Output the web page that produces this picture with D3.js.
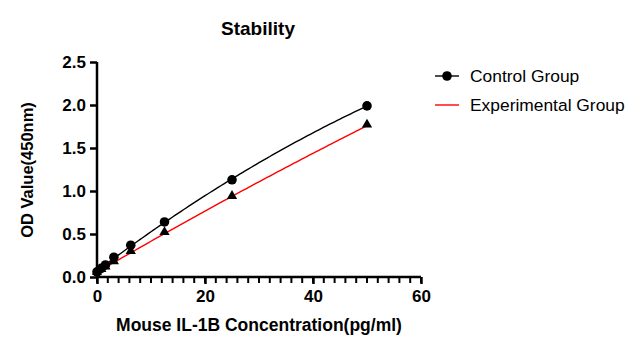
<!DOCTYPE html>
<html><head><meta charset="utf-8">
<script src="https://cdn.jsdelivr.net/npm/d3@7"></script>
<style>body{margin:0;background:#fff}svg{display:block}text{font-family:Arial,"Liberation Sans",sans-serif}</style>
</head><body>
<svg id="c" width="638" height="350"></svg>
<script>
const concentrations = [0, 0.78, 1.56, 3.125, 6.25, 12.5, 25, 50];
const controlValues = [0.06, 0.10, 0.14, 0.23, 0.37, 0.64, 1.13, 1.99];
const experimentalValues = [0.05, 0.08, 0.11, 0.17, 0.29, 0.51, 0.93, 1.76];
const xTicks = [0, 20, 40, 60];
const xMinorTicks = d3.range(0, 61, 2);
const yTicks = [0, 0.5, 1.0, 1.5, 2.0, 2.5];
const seriesNames = ["Control Group", "Experimental Group"];

const svg = d3.select("#c");
const x = d3.scaleLinear().domain([0, 60]).range([97, 421]);
const y = d3.scaleLinear().domain([0, 2.5]).range([277, 62]);

// quadratic least squares fit
function fit(xs, ys) {
  let n = xs.length, S = [[0,0,0],[0,0,0],[0,0,0]], b = [0,0,0];
  for (let i = 0; i < n; i++) {
    const p = [1, xs[i], xs[i]*xs[i]];
    for (let r = 0; r < 3; r++) { b[r] += p[r]*ys[i]; for (let c = 0; c < 3; c++) S[r][c] += p[r]*p[c]; }
  }
  const M = S.map((row, i) => [...row, b[i]]);
  for (let i = 0; i < 3; i++) {
    let m = i; for (let k = i+1; k < 3; k++) if (Math.abs(M[k][i]) > Math.abs(M[m][i])) m = k;
    [M[i], M[m]] = [M[m], M[i]];
    for (let k = i+1; k < 3; k++) { const f = M[k][i]/M[i][i]; for (let c = i; c < 4; c++) M[k][c] -= f*M[i][c]; }
  }
  const s = [0,0,0];
  for (let i = 2; i >= 0; i--) { let v = M[i][3]; for (let c = i+1; c < 3; c++) v -= M[i][c]*s[c]; s[i] = v/M[i][i]; }
  return t => s[0] + s[1]*t + s[2]*t*t;
}
const samples = d3.range(0, 50.01, 0.5);
const line = d3.line().x(d => x(d[0])).y(d => y(d[1]));
[[controlValues, "#000"], [experimentalValues, "#ff0000"]].forEach(([vals, col]) => {
  const f = fit(concentrations, vals);
  svg.append("path").attr("d", line(samples.map(t => [t, f(t)])))
    .attr("fill", "none").attr("stroke", col).attr("stroke-width", 1.4);
});

// markers
svg.append("g").selectAll("circle").data(concentrations).join("circle")
  .attr("cx", (d) => x(d)).attr("cy", (d, i) => y(controlValues[i])).attr("r", 4.8).attr("fill", "#000");
const tri = d3.symbol().type(d3.symbolTriangle).size(46);
svg.append("g").selectAll("path").data(concentrations).join("path")
  .attr("d", tri).attr("transform", (d, i) => `translate(${x(d)},${y(experimentalValues[i]) - 1})`).attr("fill", "#000");

// axes
const xAxis = svg.append("g").attr("transform", "translate(0,277)")
  .call(d3.axisBottom(x).tickValues(xTicks).tickFormat(d3.format("d")).tickSize(7));
svg.append("g").selectAll("line").data(xMinorTicks).join("line")
  .attr("x1", d => x(d)).attr("x2", d => x(d)).attr("y1", 277).attr("y2", 283)
  .attr("stroke", "#000").attr("stroke-width", 2);
const yAxis = svg.append("g").attr("transform", "translate(97,0)")
  .call(d3.axisLeft(y).tickValues(yTicks).tickFormat(d3.format(".1f")).tickSize(7));
[xAxis, yAxis].forEach(g => {
  g.select(".domain").attr("stroke-width", 2.5).attr("stroke", "#000");
  g.selectAll(".tick line").attr("stroke-width", 2.5).attr("stroke", "#000");
  g.selectAll("text").attr("font-size", 17).attr("font-weight", "bold").attr("fill", "#000");
});
xAxis.select(".domain").attr("d", "M97,0H421");
xAxis.selectAll("text").attr("y", 13).attr("dy", "0.71em");
yAxis.select(".domain").attr("d", "M0,277V62");
yAxis.selectAll("text").attr("x", -11).attr("dy", "0.35em");

// title & labels
svg.append("text").attr("x", 258).attr("y", 35).attr("text-anchor", "middle")
  .attr("font-size", 19).attr("font-weight", "bold").text("Stability");
svg.append("text").attr("x", 259).attr("y", 331).attr("text-anchor", "middle")
  .attr("font-size", 17.5).attr("font-weight", "bold").text("Mouse IL-1B Concentration(pg/ml)");
svg.append("text").attr("transform", "translate(33,170) rotate(-90)").attr("text-anchor", "middle")
  .attr("font-size", 16.5).attr("font-weight", "bold").text("OD Value(450nm)");

// legend
const lg = svg.append("g");
[["#000", true], ["#ff0000", false]].forEach(([col, mk], i) => {
  const yy = 76 + i * 29;
  lg.append("line").attr("x1", 435).attr("x2", 459).attr("y1", yy).attr("y2", yy)
    .attr("stroke", col).attr("stroke-width", 1.4);
  if (mk) lg.append("circle").attr("cx", 447).attr("cy", yy).attr("r", 4.8).attr("fill", "#000");
  lg.append("text").attr("x", 470).attr("y", yy).attr("dy", "0.35em")
    .attr("font-size", 17.4).attr("fill", "#000").text(seriesNames[i]);
});
</script>
</body></html>
